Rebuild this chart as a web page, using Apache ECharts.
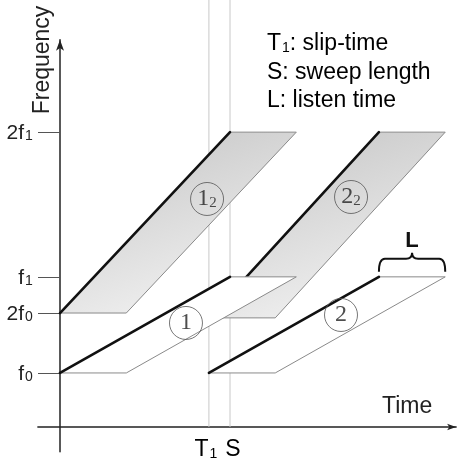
<!DOCTYPE html>
<html><head><meta charset="utf-8">
<script src="https://cdn.jsdelivr.net/npm/echarts@6/dist/echarts.min.js"></script>
<style>html,body{margin:0;padding:0;background:#fff}#c{width:461px;height:462px}</style>
</head><body><div id="c"></div>
<script>
// ---- data ----
const slipTime = 8.76;      // T1
const sweepLength = 10;     // S
const listenTime = 3.9;     // L
const sweepNames = ['1', '2', '1_2', '2_2'];
const sweepStart = [0, 8.76, 0, 8.76];
const sweepFreqStart = [10, 10, 21.1, 20.2];
const sweepFreqEnd = [27.8, 27.8, 54.6, 54.6];
const sweepHarmonic = [false, false, true, true];
const badgeTime = [7.41, 16.53, 8.65, 17.12];
const badgeFreq = [19.26, 20.74, 42.22, 42.59];
const yTickValues = [10, 21.1, 27.8, 54.6];
const yTickLabels = ['f_0', '2f_0', 'f_1', '2f_1'];
const xTickValues = [8.76, 10];
const xTickLabels = ['T_1', 'S'];
const legendLines = ['T_1: slip-time', 'S: sweep length', 'L: listen time'];

const SANS = '"Liberation Sans", Arial, sans-serif';
const SERIF = '"Liberation Serif", "DejaVu Serif", serif';

function toRich(s) {
  const i = s.indexOf('_');
  if (i < 0) return '{m|' + s + '}';
  const pre = s.slice(0, i), sub = s[i + 1], post = s.slice(i + 2);
  return (pre ? '{m|' + pre + '}' : '') + '{s|' + sub + '}' + (post ? '{m|' + post + '}' : '');
}
function richSans(size, subSize) {
  return {
    m: { fontFamily: SANS, fontSize: size, color: '#222', lineHeight: size + 2, verticalAlign: 'bottom' },
    s: { fontFamily: SANS, fontSize: subSize, color: '#222', lineHeight: subSize, padding: [Math.round(size * 0.55), 0, 0, 1], verticalAlign: 'bottom' }
  };
}

const sweepData = sweepNames.map((n, i) => [sweepStart[i], sweepFreqStart[i], sweepFreqEnd[i], i]);
const harmonicData = sweepData.filter(d => sweepHarmonic[d[3]]);
const fundamentalData = sweepData.filter(d => !sweepHarmonic[d[3]]);
const badgeData = sweepNames.map((n, i) => ({ value: [badgeTime[i], badgeFreq[i]], name: n }));

function sweepRender(shaded) {
  return function (params, api) {
    const t0 = api.value(0), fs = api.value(1), fe = api.value(2);
    const p0 = api.coord([t0, fs]);
    const p1 = api.coord([t0 + sweepLength, fe]);
    const p2 = api.coord([t0 + sweepLength + listenTime, fe]);
    const p3 = api.coord([t0 + listenTime, fs]);
    const fill = shaded ? {
      type: 'linear', x: 0, y: 0, x2: 0.3, y2: 1,
      colorStops: [{ offset: 0, color: '#c2c2c2' }, { offset: 1, color: '#ececec' }]
    } : '#ffffff';
    return {
      type: 'group',
      children: [
        { type: 'polygon', shape: { points: [p0, p1, p2, p3] },
          style: { fill: fill, stroke: '#8a8a8a', lineWidth: 1 } },
        { type: 'line', shape: { x1: p0[0], y1: p0[1], x2: p1[0], y2: p1[1] },
          style: { stroke: '#111', lineWidth: 2.6, lineCap: 'round' } }
      ]
    };
  };
}

const chart = echarts.init(document.getElementById('c'), null, { renderer: 'canvas' });
chart.setOption({
  animation: false,
  backgroundColor: '#fff',
  grid: { left: 37.9, right: 4.9, top: 39.8, bottom: 10.2, containLabel: false, outerBoundsMode: 'none' },
  xAxis: {
    type: 'value', min: -1.3, max: 23.3,
    axisLine: { onZero: true, lineStyle: { color: '#222', width: 1.5 }, symbol: ['none', 'arrow'], symbolSize: [5, 9] },
    axisTick: { show: false },
    splitLine: { show: false },
    axisLabel: { show: false }
  },
  yAxis: {
    type: 'value', min: -4.6, max: 71.7,
    axisLine: { onZero: true, lineStyle: { color: '#222', width: 1.5 }, symbol: ['none', 'arrow'], symbolSize: [6, 11] },
    axisTick: { show: true, customValues: yTickValues, length: 22, lineStyle: { color: '#555', width: 1 } },
    splitLine: { show: false },
    axisLabel: {
      customValues: yTickValues, margin: 5, hideOverlap: false,
      formatter: v => toRich(yTickLabels[yTickValues.indexOf(v)] || ''),
      rich: richSans(21, 14)
    }
  },
  graphic: [
    { type: 'text', x: 43, y: 60, rotation: Math.PI / 2,
      style: { text: 'Frequency', font: '23px ' + SANS, fill: '#222', align: 'center', verticalAlign: 'middle' } },
    { type: 'text', x: 382, y: 407,
      style: { text: 'Time', font: '23px ' + SANS, fill: '#222', align: 'left', verticalAlign: 'middle' } },
    ...legendLines.map((t, i) => ({
      type: 'text', x: 267, y: [43, 72, 100][i],
      style: { text: toRich(t), rich: richSans(23, 14), align: 'left', verticalAlign: 'middle' }
    }))
  ],
  series: [
    { // T1 and S guide lines
      type: 'custom', z: 1, clip: false, silent: true,
      data: xTickValues.map(v => [v]),
      renderItem: (params, api) => {
        const p = api.coord([api.value(0), 0]);
        return { type: 'line', shape: { x1: p[0], y1: p[1], x2: p[0], y2: 0 },
          style: { stroke: '#c8c8c8', lineWidth: 1 } };
      }
    },
    { // T1, S labels under the time axis
      type: 'custom', z: 5, clip: false, silent: true,
      data: xTickValues.map((v, i) => [v, i]),
      renderItem: (params, api) => {
        const p = api.coord([api.value(0), 0]);
        const label = xTickLabels[api.value(1)];
        return { type: 'text', x: p[0] + (api.value(1) === 0 ? -3 : 3), y: p[1] + 9,
          style: { text: toRich(label), rich: richSans(23, 14), align: 'center', verticalAlign: 'top' } };
      }
    },
    { type: 'custom', z: 2, clip: false, silent: true, data: harmonicData, renderItem: sweepRender(true) },
    { type: 'custom', z: 3, clip: false, silent: true, data: fundamentalData, renderItem: sweepRender(false) },
    {
      type: 'scatter', z: 4, silent: true, symbol: 'circle', symbolSize: 33,
      itemStyle: { color: 'rgba(0,0,0,0)', borderColor: '#555', borderWidth: 1 },
      data: badgeData,
      label: {
        show: true, position: 'inside',
        formatter: p => toRich(p.name),
        rich: {
          m: { fontFamily: SERIF, fontSize: 24, color: '#222', lineHeight: 24, verticalAlign: 'bottom' },
          s: { fontFamily: SERIF, fontSize: 15, color: '#222', lineHeight: 15, padding: [14, 0, 0, 0], verticalAlign: 'bottom' }
        }
      }
    },
    { // L brace
      type: 'custom', z: 4, clip: false, silent: true,
      data: [[slipTime + sweepLength, sweepFreqEnd[1], listenTime]],
      renderItem: (params, api) => {
        const a = api.coord([api.value(0), api.value(1)]);
        const b = api.coord([api.value(0) + api.value(2), api.value(1)]);
        const x0 = a[0], x1 = b[0], xm = (x0 + x1) / 2;
        const yEnd = a[1] - 5, yTop = a[1] - 18, yTip = a[1] - 24;
        const d = 'M' + x0 + ' ' + yEnd + ' Q' + x0 + ' ' + yTop + ' ' + (x0 + 6) + ' ' + yTop +
          ' L' + (xm - 6) + ' ' + yTop + ' Q' + xm + ' ' + yTop + ' ' + xm + ' ' + yTip +
          ' Q' + xm + ' ' + yTop + ' ' + (xm + 6) + ' ' + yTop +
          ' L' + (x1 - 6) + ' ' + yTop + ' Q' + x1 + ' ' + yTop + ' ' + x1 + ' ' + yEnd;
        return {
          type: 'group',
          children: [
            { type: 'path', shape: { pathData: d }, style: { fill: 'none', stroke: '#111', lineWidth: 2 } },
            { type: 'text', x: xm, y: yTip - 1,
              style: { text: 'L', font: 'bold 22px ' + SANS, fill: '#111', align: 'center', verticalAlign: 'bottom' } }
          ]
        };
      }
    }
  ]
});
</script>
</body></html>
